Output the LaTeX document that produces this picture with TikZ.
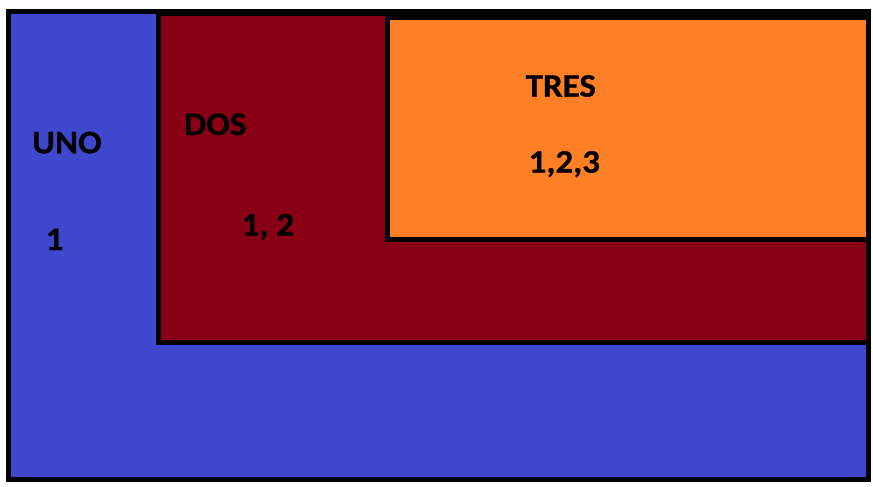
\documentclass[tikz,border=0pt]{standalone}
\usepackage{fontspec}
\setmainfont{Carlito}
\newfontfamily\lblfont[FakeStretch=1.06,FakeBold=0.6]{Carlito Bold}
\definecolor{unoblue}{HTML}{3F48CC}
\definecolor{dosred}{HTML}{880015}
\definecolor{tresorange}{HTML}{FF7F27}
\begin{document}
\begin{tikzpicture}[x=1pt,y=-1pt,
  region/.style={draw=black,line width=5pt,line join=miter},
  lbl/.style={anchor=base west,inner sep=0pt,font=\fontsize{33}{33}\selectfont\lblfont,text=black}]
\useasboundingbox (0,0) rectangle (873,487);
\fill[white] (0,0) rectangle (873,487);
\path[region,fill=unoblue] (8.5,11.5) rectangle (868.5,479.5);
\path[region,fill=dosred] (158.5,13.5) rectangle (868.5,342.5);
\path[region,fill=tresorange] (387.5,17.5) rectangle (868.5,239.5);
\draw[line width=5pt] (8.5,11.5) rectangle (868.5,479.5);
\node[lbl] (uno) at (32,153.3) {UNO};
\node[lbl] (one) at (45.5,250) {1};
\node[lbl] (dos) at (184,135) {DOS};
\node[lbl] (onetwo) at (241.5,235.5) {1, 2};
\node[lbl] (tres) at (525.5,96.7) {TRES};
\node[lbl] (onetwothree) at (528.5,172.7) {1,2,3};
\end{tikzpicture}
\end{document}
